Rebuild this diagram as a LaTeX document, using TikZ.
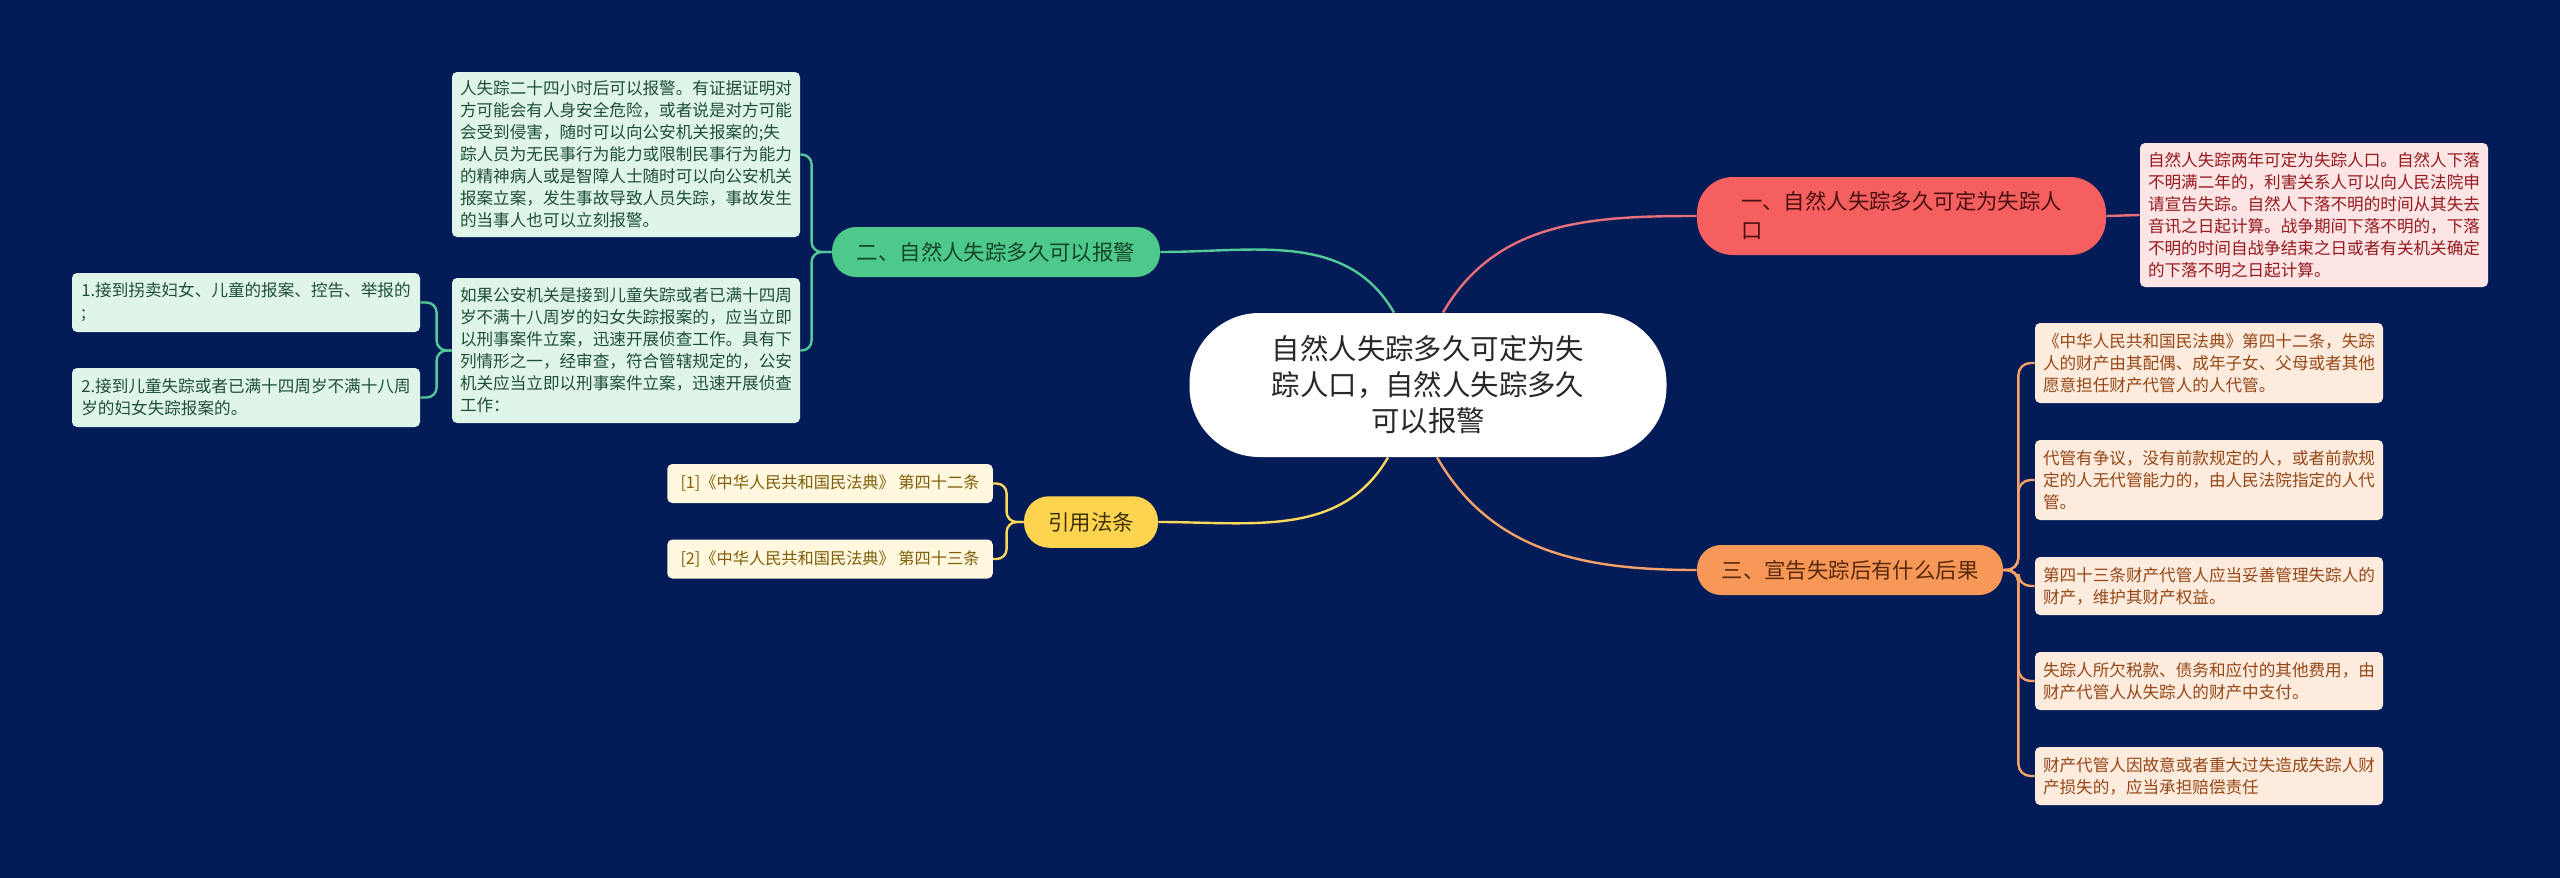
\documentclass[tikz,border=0pt]{standalone}
\usepackage{fontspec}
\setmainfont{Noto Sans CJK SC}
\usepackage{xcolor}
\usetikzlibrary{positioning,calc}
\definecolor{Night}{RGB}{3,27,87}
\definecolor{RootInk}{RGB}{40,40,40}
\definecolor{RedMain}{RGB}{245,95,95}
\definecolor{RedInk}{RGB}{75,15,15}
\definecolor{RedLine}{RGB}{232,112,122}
\definecolor{RedLeaf}{RGB}{253,228,229}
\definecolor{RedText}{RGB}{150,25,30}
\definecolor{GreenMain}{RGB}{78,201,140}
\definecolor{GreenInk}{RGB}{22,68,44}
\definecolor{GreenLine}{RGB}{84,202,152}
\definecolor{GreenLeaf}{RGB}{224,245,234}
\definecolor{GreenText}{RGB}{30,78,55}
\definecolor{GoldMain}{RGB}{252,212,80}
\definecolor{GoldInk}{RGB}{62,50,0}
\definecolor{GoldLine}{RGB}{250,216,92}
\definecolor{GoldLeaf}{RGB}{255,247,222}
\definecolor{GoldText}{RGB}{128,94,10}
\definecolor{OrgMain}{RGB}{248,152,88}
\definecolor{OrgInk}{RGB}{88,40,10}
\definecolor{OrgLine}{RGB}{245,162,104}
\definecolor{OrgLeaf}{RGB}{253,236,222}
\definecolor{OrgText}{RGB}{150,70,22}
\tikzset{
  rootnode/.style={rectangle,rounded corners=35pt,fill=white,text=RootInk,
                   minimum width=238.5pt,minimum height=72pt,inner sep=0pt,
                   align=center,font=\fontsize{14.2}{18}\selectfont},
  branch/.style={rectangle,rounded corners=12pt,minimum height=25pt,inner sep=0pt,
                 align=left,font=\fontsize{10.7}{14.5}\selectfont},
  leaf/.style={rectangle,rounded corners=2.5pt,minimum width=174pt,inner sep=0pt,
               align=left,font=\fontsize{8.3}{11}\selectfont},
  redleaf/.style={leaf,fill=RedLeaf,text=RedText},
  greenleaf/.style={leaf,fill=GreenLeaf,text=GreenText},
  goldleaf/.style={leaf,fill=GoldLeaf,text=GoldText,minimum width=162.75pt,
                   minimum height=19.5pt,font=\fontsize{8.1}{10}\selectfont},
  orgleaf/.style={leaf,fill=OrgLeaf,text=OrgText},
  link/.style={line width=1.2pt},
}

\begin{document}
\begin{tikzpicture}[x=0.5pt,y=-0.5pt]
  \fill[Night] (0,0) rectangle (2560,878);
  \node[rootnode] (root) at (1428,385) {自然人失踪多久可定为失\\踪人口，自然人失踪多久\\可以报警};

  % branches
  \node[branch,fill=RedMain,text=RedInk,minimum width=204.5pt,minimum height=39pt,
        rounded corners=18pt] (n1) at (1901.5,216) {一、自然人失踪多久可定为失踪人\\口};
  \node[branch,fill=GreenMain,text=GreenInk,minimum width=164pt] (n2) at (996,252) {二、自然人失踪多久可以报警};
  \node[branch,fill=OrgMain,text=OrgInk,minimum width=153pt] (n3) at (1850,570) {三、宣告失踪后有什么后果};
  \node[branch,fill=GoldMain,text=GoldInk,minimum width=67pt,minimum height=25.75pt,
        rounded corners=12.5pt] (n4) at (1091,522) {引用法条};

  % leaves
  \node[redleaf,minimum height=72pt] (r1) at (2314,215) {自然人失踪两年可定为失踪人口。自然人下落\\不明满二年的，利害关系人可以向人民法院申\\请宣告失踪。自然人下落不明的时间从其失去\\音讯之日起计算。战争期间下落不明的，下落\\不明的时间自战争结束之日或者有关机关确定\\的下落不明之日起计算。};

  \node[greenleaf,minimum height=82.5pt] (g1) at (626,154.5) {人失踪二十四小时后可以报警。有证据证明对\\方可能会有人身安全危险，或者说是对方可能\\会受到侵害，随时可以向公安机关报案的;失\\踪人员为无民事行为能力或限制民事行为能力\\的精神病人或是智障人士随时可以向公安机关\\报案立案，发生事故导致人员失踪，事故发生\\的当事人也可以立刻报警。};
  \node[greenleaf,minimum height=72.5pt] (g2) at (626,350.5) {如果公安机关是接到儿童失踪或者已满十四周\\岁不满十八周岁的妇女失踪报案的，应当立即\\以刑事案件立案，迅速开展侦查工作。具有下\\列情形之一，经审查，符合管辖规定的，公安\\机关应当立即以刑事案件立案，迅速开展侦查\\工作：};
  \node[greenleaf,minimum height=29.5pt] (g3) at (246,302.5) {1.接到拐卖妇女、儿童的报案、控告、举报的\\;};
  \node[greenleaf,minimum height=29.5pt] (g4) at (246,397.5) {2.接到儿童失踪或者已满十四周岁不满十八周\\岁的妇女失踪报案的。};

  \node[goldleaf] (y1) at (830,483.5) {[1]《中华人民共和国民法典》 第四十二条};
  \node[goldleaf] (y2) at (830,559) {[2]《中华人民共和国民法典》 第四十三条};

  \node[orgleaf,minimum height=40pt] (o1) at (2209,363) {《中华人民共和国民法典》第四十二条，失踪\\人的财产由其配偶、成年子女、父母或者其他\\愿意担任财产代管人的人代管。};
  \node[orgleaf,minimum height=40pt] (o2) at (2209,480) {代管有争议，没有前款规定的人，或者前款规\\定的人无代管能力的，由人民法院指定的人代\\管。};
  \node[orgleaf,minimum height=29pt] (o3) at (2209,586) {第四十三条财产代管人应当妥善管理失踪人的\\财产，维护其财产权益。};
  \node[orgleaf,minimum height=29pt] (o4) at (2209,681) {失踪人所欠税款、债务和应付的其他费用，由\\财产代管人从失踪人的财产中支付。};
  \node[orgleaf,minimum height=29pt] (o5) at (2209,776) {财产代管人因故意或者重大过失造成失踪人财\\产损失的，应当承担赔偿责任};

  % connectors
  \draw[link,RedLine] ([xshift=7.5pt]root.north) to[out=60,in=180] (n1.west);
  \draw[link,OrgLine] ([xshift=4.5pt]root.south) to[out=-60,in=180] (n3.west);
  \draw[link,GreenLine] ([xshift=-17pt]root.north) to[out=120,in=0] (n2.east);
  \draw[link,GoldLine] ([xshift=-20pt]root.south) to[out=-120,in=0] (n4.east);
  \draw[link,RedLine] (n1.east) -- (r1.west);
  \foreach \g in {g1,g2}
    \draw[link,GreenLine,rounded corners=5pt] (n2.west) -- ++(-20,0) |- (\g.east);
  \foreach \g in {g3,g4}
    \draw[link,GreenLine,rounded corners=5pt] (g2.west) -- ++(-15,0) |- (\g.east);
  \foreach \y in {y1,y2}
    \draw[link,GoldLine,rounded corners=5pt] (n4.west) -- ++(-17,0) |- (\y.east);
  \foreach \o in {o1,o2,o3,o4,o5}
    \draw[link,OrgLine,rounded corners=6pt] (n3.east) -- ++(15,0) |- (\o.west);
\end{tikzpicture}
\end{document}
